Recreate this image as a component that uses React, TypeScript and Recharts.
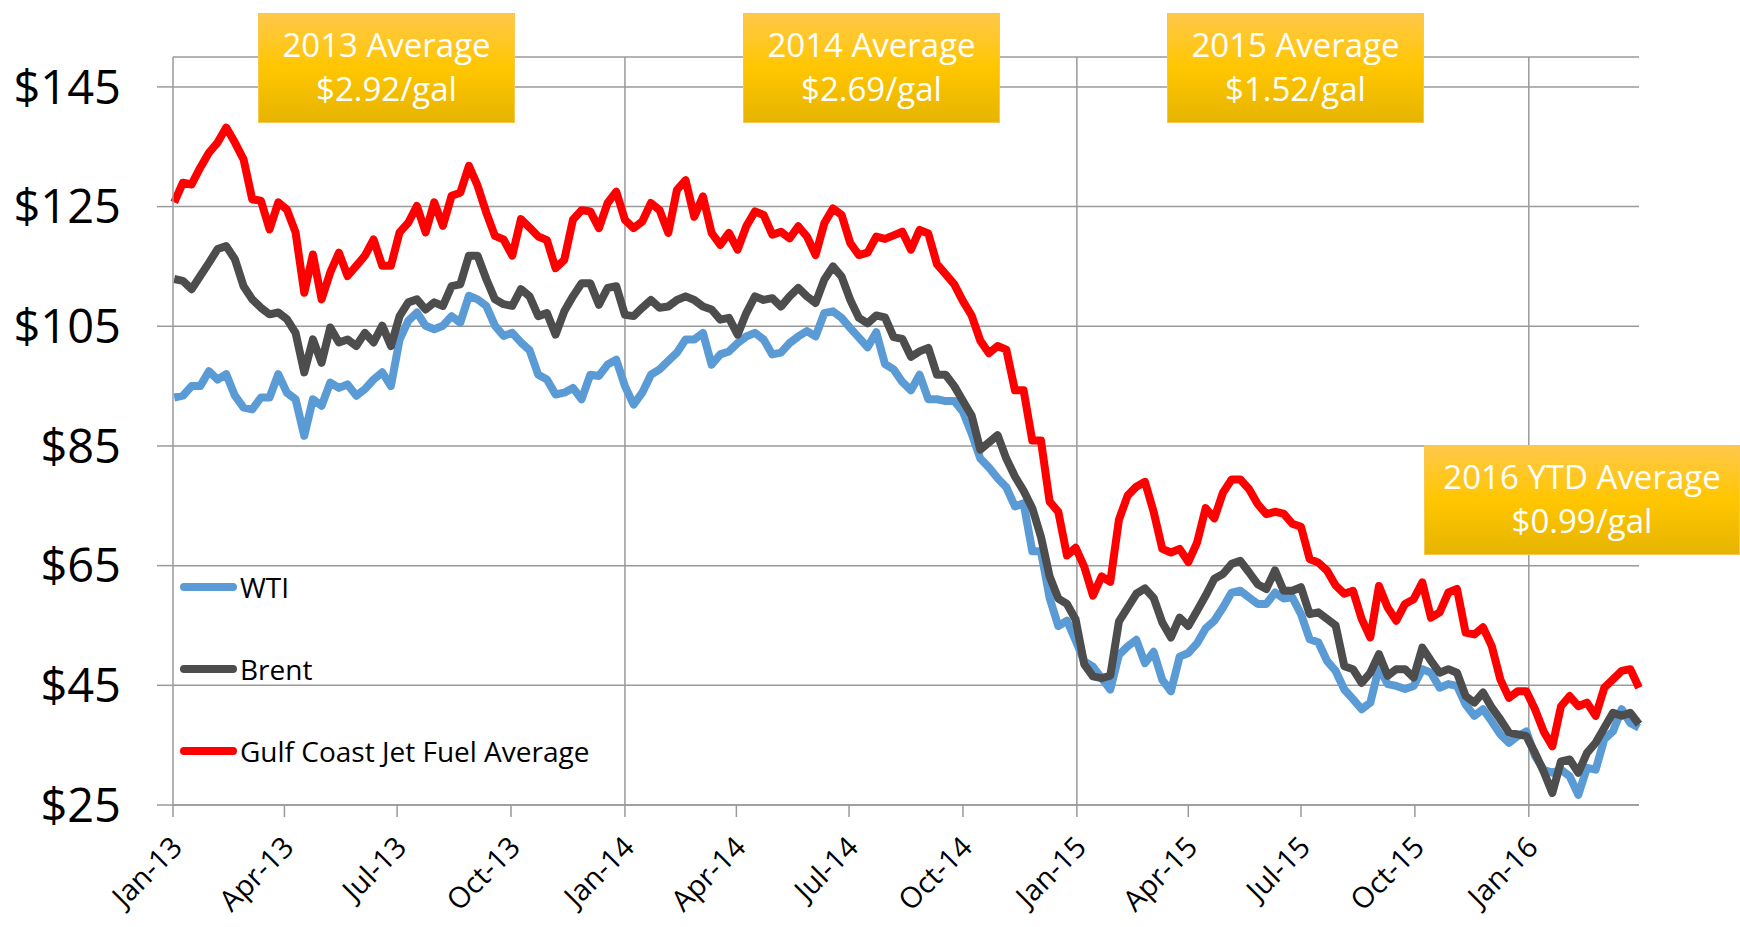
import { LineChart, Line, XAxis, YAxis, CartesianGrid, ReferenceLine } from 'recharts'

// weekly readings, first point Jan 2 2013, one every 7 days
const wti = [
  93.1, 93.4, 95, 95, 97.5, 96.1, 97, 93.4, 91.4, 91.1, 93.1, 93.1, 97, 93.9, 92.8, 86.7, 92.8, 91.7, 95.6, 94.7,
  95.3, 93.4, 94.5, 96.1, 97.3, 95, 102.8, 105.9, 107.3, 105.1, 104.5, 105.1, 106.7, 105.6, 110.1, 109.5, 108.4, 105.1, 103.4, 103.9,
  102.3, 101, 96.9, 96.1, 93.6, 93.9, 94.7, 92.8, 96.9, 96.7, 98.6, 99.4, 95, 91.9, 93.9, 96.9, 97.8, 99.2, 100.6, 102.8,
  102.8, 103.9, 98.6, 100.3, 100.8, 102.2, 103.3, 103.9, 102.8, 100.3, 100.6, 102.2, 103.3, 104.2, 103.3, 107.2, 107.5, 106.4, 104.7, 103.1,
  101.5, 104, 98.7, 97.8, 95.7, 94.3, 96.9, 92.8, 92.8, 92.5, 92.5, 90.7, 87.1, 82.9, 81.4, 79.6, 78.1, 74.9, 75.4, 67.4,
  67.4, 59.6, 54.9, 55.8, 52.5, 49, 48.1, 46.2, 44.3, 50.1, 51.5, 52.6, 48.7, 50.6, 45.9, 44, 49.8, 50.4, 52, 54.5,
  55.8, 58, 60.5, 60.8, 59.7, 58.6, 58.6, 60.5, 59.5, 59.7, 56.9, 52.7, 52.2, 49.1, 47.4, 44.3, 42.7, 41, 42.1, 48,
  45.2, 44.9, 44.4, 44.9, 47.7, 47.1, 44.6, 45.2, 44.9, 41.8, 39.9, 41, 39, 36.8, 35.4, 36.5, 37.3, 33.2, 30.9, 30.4,
  30.9, 29.8, 26.7, 31.2, 30.9, 36, 37.3, 41, 38.7, 37.9,
]

const brent = [
  112.9, 112.6, 111.2, 113.4, 115.6, 117.9, 118.4, 116.2, 111.7, 109.5, 108.1, 107, 107.3, 106.2, 103.9, 97.3, 102.8, 98.9, 104.8, 102.3,
  102.8, 101.7, 103.9, 102.3, 105.1, 101.7, 106.7, 109, 109.5, 107.8, 109, 108.4, 111.7, 112, 116.8, 116.8, 112.9, 109.5, 108.7, 108.4,
  111.2, 110, 106.7, 107.2, 103.6, 107.5, 110, 112.2, 112.2, 108.6, 111.4, 111.7, 106.9, 106.7, 108.1, 109.4, 108.1, 108.3, 109.4, 110,
  109.4, 108.3, 107.8, 106.1, 106.4, 103.6, 107.2, 110, 109.4, 109.7, 108.3, 110, 111.4, 110, 108.9, 112.8, 115, 113.3, 109.4, 106.4,
  105.5, 106.8, 106.5, 103.2, 102.9, 99.9, 100.8, 101.4, 96.9, 96.9, 95, 92.5, 90.1, 84.4, 85.6, 86.8, 82.9, 79.9, 77.5, 74.6,
  69.8, 63.2, 59.5, 58.6, 56, 48.5, 46.5, 46.2, 46.6, 55.7, 58, 60.3, 61.2, 59.6, 55.5, 53, 56.3, 54.9, 57.4, 60,
  62.8, 63.6, 65.3, 65.8, 63.9, 61.9, 61.1, 64.2, 60.8, 60.8, 61.4, 56.9, 57.2, 56.1, 55, 48.2, 47.7, 45.4, 47.1, 50.2,
  46.6, 47.7, 47.7, 46.3, 51.3, 49.1, 47.1, 47.7, 47.1, 43.2, 42.1, 43.8, 41.3, 39.3, 37.1, 36.8, 36.5, 33.7, 30.6, 27,
  32.3, 32.6, 30.4, 33.7, 35.4, 37.9, 40.4, 39.9, 40.4, 38.5,
]

const jetFuel = [
  125.7, 129, 128.7, 131.5, 134, 135.7, 138.2, 135.7, 132.9, 126.2, 126, 121.2, 125.7, 124.5, 120.7, 110.6, 117, 109.5, 114, 117.3,
  113.4, 115.1, 116.8, 119.5, 115.1, 115.1, 120.7, 122.3, 125.1, 120.7, 125.7, 121.8, 126.8, 127.3, 131.8, 128.5, 124, 120.1, 119.5, 116.8,
  122.9, 121.5, 120, 119.4, 114.7, 116.1, 122.8, 124.4, 124.2, 121.4, 125.6, 127.5, 122.8, 121.4, 122.5, 125.6, 124.4, 120.6, 127.8, 129.4,
  123.3, 126.7, 120.6, 118.6, 120.6, 117.8, 121.7, 124.2, 123.6, 120.3, 120.8, 119.7, 121.7, 120, 116.9, 122.2, 124.7, 123.6, 118.9, 116.9,
  117.3, 120, 119.6, 120.2, 120.8, 117.8, 121.1, 120.5, 115.4, 113.7, 112, 109.2, 106.8, 102.6, 100.5, 101.7, 101.1, 94.3, 94.3, 85.9,
  85.9, 75.7, 74, 66.7, 68, 64.8, 60, 63.2, 62.3, 72.7, 76.7, 78.2, 79, 74, 67.8, 67.2, 67.8, 65.6, 68.8, 74.6,
  72.9, 77.2, 79.4, 79.4, 77.8, 75.3, 73.6, 74, 73.7, 72, 71.5, 66.1, 65.5, 64.2, 61.7, 60.3, 60.8, 56.1, 53, 61.6,
  58, 55.8, 58.6, 59.4, 62.2, 56.3, 57.2, 60.5, 61.1, 53.8, 53.5, 54.7, 51.6, 46, 42.9, 44, 44, 41, 37.3, 34.8,
  41.5, 43.2, 41.5, 42.1, 39.9, 44.6, 46, 47.4, 47.7, 44.6,
]

// x axis: days since Jan 1 2013
const tickDays = [0, 90, 181, 273, 365, 455, 546, 638, 730, 820, 911, 1003, 1095]
const tickLabels = ['Jan-13', 'Apr-13', 'Jul-13', 'Oct-13', 'Jan-14', 'Apr-14', 'Jul-14', 'Oct-14', 'Jan-15', 'Apr-15', 'Jul-15', 'Oct-15', 'Jan-16']
const yearStarts = [365, 730, 1095]
const priceTicks = [25, 45, 65, 85, 105, 125, 145]

const seriesNames = ['WTI', 'Brent', 'Gulf Coast Jet Fuel Average']
const avgTitles = ['2013 Average', '2014 Average', '2015 Average', '2016 YTD Average']
const avgPrices = ['$2.92/gal', '$2.69/gal', '$1.52/gal', '$0.99/gal']

const data = wti.map((v, i) => ({ day: 1 + 7 * i, wti: v, brent: brent[i], jet: jetFuel[i] }))

const COLORS = ['#5B9BD5', '#4D4D4D', '#FF0000']
const FONT = '"Open Sans", "DejaVu Sans", sans-serif'
const GRID = '#9a9a9a'

// placement of the yellow callouts (px)
const boxPos = [
  { left: 258, top: 13, width: 257 },
  { left: 743, top: 13, width: 257 },
  { left: 1167, top: 13, width: 257 },
  { left: 1424, top: 445, width: 316 },
]
const legendRows = [587, 669, 751]

const XTick = (props: any) => {
  const { x, y, payload } = props
  const idx = tickDays.indexOf(payload.value)
  return (
    <g transform={`translate(${x + 11},${y + 30})`}>
      <text textAnchor="end" transform="rotate(-45)" fontSize={29} fontFamily={FONT} fill="#000">
        {tickLabels[idx]}
      </text>
    </g>
  )
}

export default function App() {
  return (
    <div style={{ position: 'absolute', left: 0, top: 0, width: 1740, height: 927, background: '#fff', overflow: 'hidden' }}>
      <LineChart width={1740} height={927} data={data} margin={{ top: 57, right: 101, bottom: 0, left: 0 }}>
        <CartesianGrid vertical={false} stroke={GRID} strokeWidth={1.5} />
        {yearStarts.map((d) => (
          <ReferenceLine key={d} x={d} stroke={GRID} strokeWidth={1.5} />
        ))}
        <XAxis
          dataKey="day"
          type="number"
          domain={[0, 1184]}
          ticks={tickDays}
          interval={0}
          height={122}
          tickSize={12}
          tick={<XTick />}
          axisLine={{ stroke: GRID, strokeWidth: 1.5 }}
          tickLine={{ stroke: GRID, strokeWidth: 1.5 }}
        />
        <YAxis
          type="number"
          domain={[25, 150]}
          ticks={priceTicks}
          interval={0}
          width={173}
          tickSize={16}
          tickMargin={36}
          tickFormatter={(v) => `$${v}`}
          tick={{ fontSize: 47, fontFamily: FONT, fill: '#000' }}
          axisLine={{ stroke: GRID, strokeWidth: 1.5 }}
          tickLine={{ stroke: GRID, strokeWidth: 1.5 }}
        />
        <Line type="linear" dataKey="wti" name={seriesNames[0]} stroke={COLORS[0]} strokeWidth={8} dot={false} strokeLinejoin="round" isAnimationActive={false} />
        <Line type="linear" dataKey="brent" name={seriesNames[1]} stroke={COLORS[1]} strokeWidth={8} dot={false} strokeLinejoin="round" isAnimationActive={false} />
        <Line type="linear" dataKey="jet" name={seriesNames[2]} stroke={COLORS[2]} strokeWidth={8} dot={false} strokeLinejoin="round" isAnimationActive={false} />
      </LineChart>

      {/* legend inside the plot */}
      {seriesNames.map((name, i) => (
        <div
          key={name}
          style={{ position: 'absolute', left: 180, top: legendRows[i] - 20, height: 40, display: 'flex', alignItems: 'center', fontFamily: FONT, fontSize: 28, color: '#000' }}
        >
          <div style={{ width: 57, height: 8, borderRadius: 4, background: COLORS[i], marginRight: 3 }} />
          <span>{name}</span>
        </div>
      ))}

      {/* yearly average callouts */}
      {avgTitles.map((t, i) => (
        <div
          key={t}
          style={{
            position: 'absolute',
            left: boxPos[i].left,
            top: boxPos[i].top,
            width: boxPos[i].width,
            height: 110,
            boxSizing: 'border-box',
            paddingTop: 9,
            background: 'linear-gradient(180deg, #FFC84A 0%, #FFC600 50%, #E6B400 100%)',
            border: '1px solid #F6C84E',
            color: '#fff',
            fontFamily: FONT,
            fontSize: 33,
            lineHeight: '44px',
            textAlign: 'center',
          }}
        >
          <div>{t}</div>
          <div>{avgPrices[i]}</div>
        </div>
      ))}
    </div>
  )
}
